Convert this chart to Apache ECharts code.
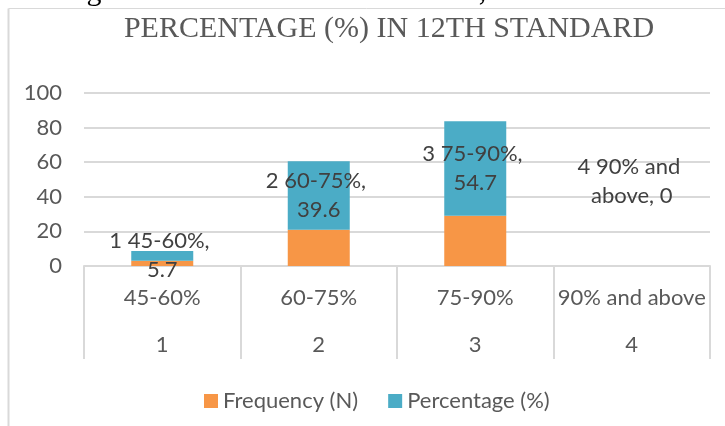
<!DOCTYPE html>
<html>
<head>
<meta charset="utf-8">
<script src="https://cdn.jsdelivr.net/npm/echarts@6/dist/echarts.min.js"></script>
<style>
  html, body { margin: 0; padding: 0; background: #fff; }
  #main { width: 725px; height: 426px; }
</style>
</head>
<body>
<div id="main"></div>
<script>
var myChart = echarts.init(document.getElementById('main'));

// data
var levelNo = ['1', '2', '3', '4'];
var categories = ['45-60%', '60-75%', '75-90%', '90% and above'];
var frequency = [3, 21, 29, 0];
var percentage = [5.7, 39.6, 54.7, 0];
var yTicks = [0, 20, 40, 60, 80, 100];

var textColor = '#595959';
var lineColor = '#D9D9D9';
var font = 'Lato';

var pctData = percentage.map(function (v, i) {
    var item = { value: v };
    if (v === 0) {
        // Excel puts the label of an empty bar up in the plot
        item.label = { offset: [0, -85] };
    }
    return item;
});

var option = {
    animation: false,
    title: {
        text: 'PERCENTAGE (%) IN 12TH STANDARD',
        left: 389,
        textAlign: 'center',
        top: 14,
        padding: 0,
        textStyle: {
            fontFamily: 'Liberation Serif',
            fontWeight: 'normal',
            fontSize: 30,
            color: textColor
        }
    },
    graphic: [
        {
            // cut-off line of the surrounding document
            type: 'text',
            x: -1,
            y: 7,
            style: {
                text: 'ove diagram shows that 65% are female, whereas 35% a',
                font: '30px "Liberation Serif"',
                fill: '#000',
                verticalAlign: 'bottom'
            }
        },
        {
            type: 'line',
            shape: { x1: 8.5, y1: 8.5, x2: 725, y2: 8.5 },
            style: { stroke: lineColor, lineWidth: 1 }
        },
        {
            type: 'line',
            shape: { x1: 8.5, y1: 8.5, x2: 8.5, y2: 426 },
            style: { stroke: lineColor, lineWidth: 2 }
        }
    ],
    legend: {
        left: 199,
        top: 385,
        icon: 'rect',
        itemWidth: 14,
        itemHeight: 14,
        itemGap: 30,
        textStyle: { fontFamily: font, fontSize: 22, color: textColor },
        data: ['Frequency (N)', 'Percentage (%)']
    },
    grid: {
        left: 84,
        right: 15,
        top: 93,
        bottom: 160
    },
    xAxis: {
        type: 'category',
        data: categories,
        axisLine: { show: true, lineStyle: { color: lineColor, width: 2 } },
        axisTick: {
            show: true,
            length: 93,
            interval: 0,
            lineStyle: { color: lineColor, width: 2 }
        },
        axisLabel: {
            interval: 0,
            margin: 8,
            fontFamily: font,
            fontSize: 22,
            lineHeight: 47,
            color: textColor,
            formatter: function (value, idx) {
                return value + '\n' + levelNo[idx];
            }
        }
    },
    yAxis: {
        type: 'value',
        min: yTicks[0],
        max: yTicks[yTicks.length - 1],
        interval: 20,
        axisLine: { show: false },
        axisTick: { show: false },
        splitLine: { lineStyle: { color: lineColor, width: 2 } },
        axisLabel: {
            margin: 22,
            fontFamily: font,
            fontSize: 22,
            color: textColor
        }
    },
    series: [
        {
            name: 'Frequency (N)',
            type: 'bar',
            stack: 'total',
            barWidth: 62,
            itemStyle: { color: '#F79646' },
            data: frequency
        },
        {
            name: 'Percentage (%)',
            type: 'bar',
            stack: 'total',
            barWidth: 62,
            itemStyle: { color: '#4BACC6' },
            label: {
                show: true,
                position: 'inside',
                fontFamily: font,
                fontSize: 22,
                lineHeight: 29,
                color: '#404040',
                width: 118,
                overflow: 'break',
                align: 'center',
                formatter: function (p) {
                    return levelNo[p.dataIndex] + ' ' + p.name + ', ' + p.value;
                }
            },
            data: pctData
        }
    ]
};

myChart.setOption(option);
</script>
</body>
</html>
